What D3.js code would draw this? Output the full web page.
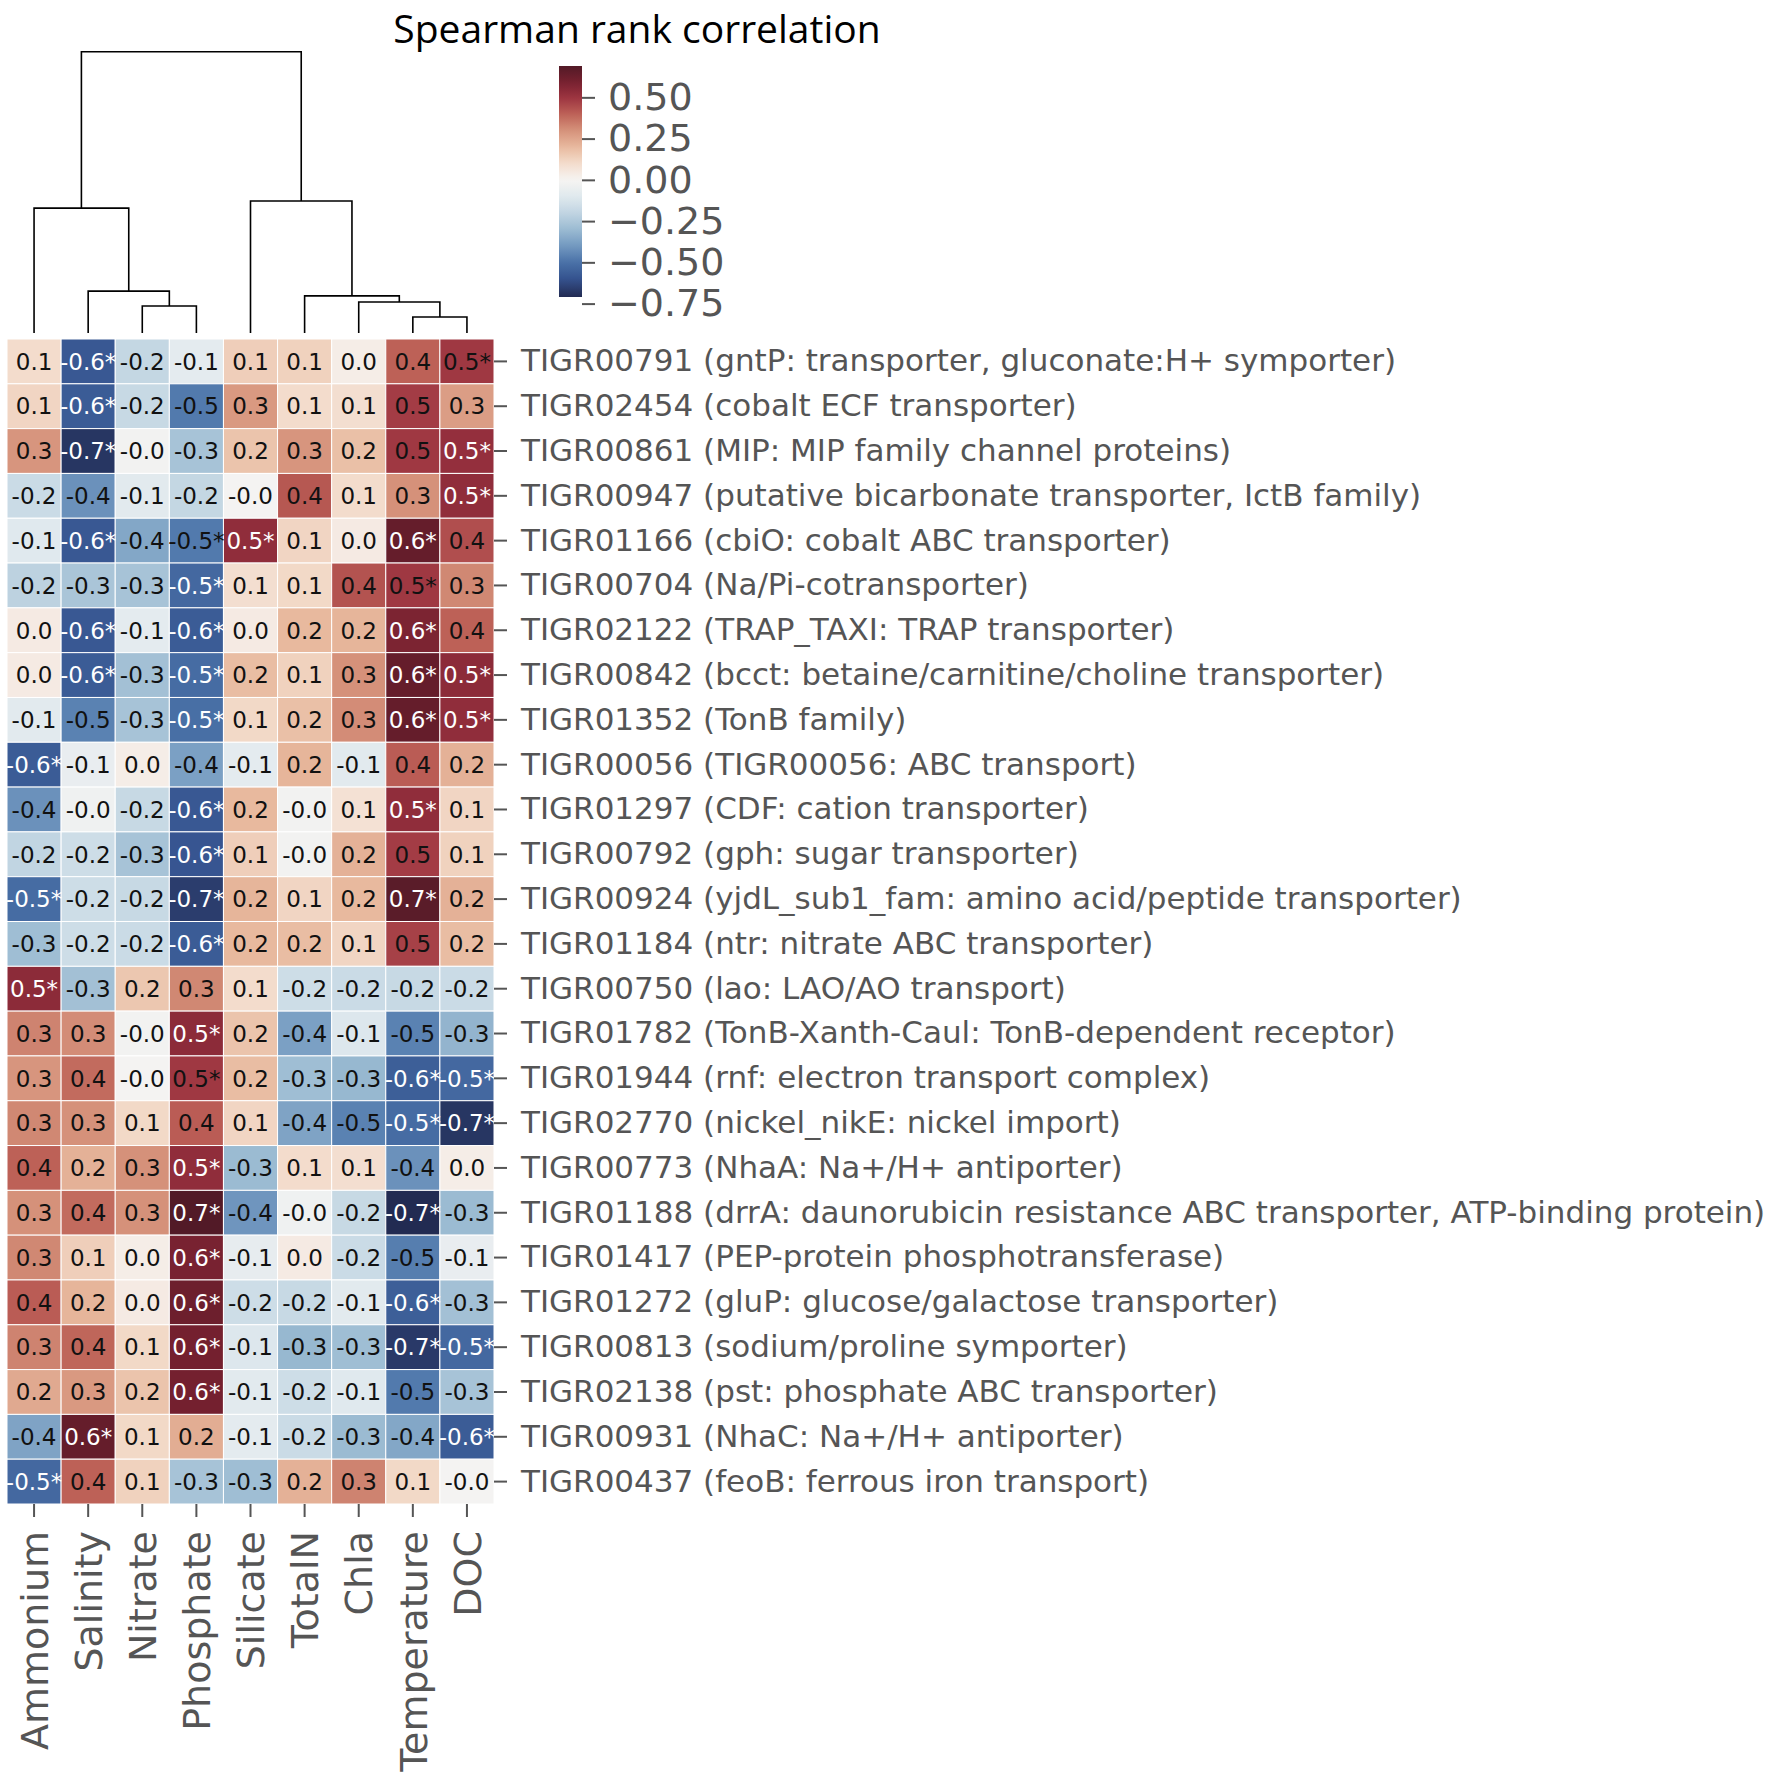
<!DOCTYPE html>
<html>
<head>
<meta charset="utf-8">
<script src="https://cdn.jsdelivr.net/npm/d3@7"></script>
<style>
  body { margin: 0; background: #fff; }
  svg { display: block; }
</style>
</head>
<body>
<svg id="chart" width="1772" height="1791"></svg>
<script>
// Columns (environmental variables) in dendrogram order
const cols = ['Ammonium', 'Salinity', 'Nitrate', 'Phosphate', 'Silicate', 'TotalN', 'Chla', 'Temperature', 'DOC'];

// Rows (TIGRFAM transporters)
const rows = [
  'TIGR00791 (gntP: transporter, gluconate:H+ symporter)',
  'TIGR02454 (cobalt ECF transporter)',
  'TIGR00861 (MIP: MIP family channel proteins)',
  'TIGR00947 (putative bicarbonate transporter, IctB family)',
  'TIGR01166 (cbiO: cobalt ABC transporter)',
  'TIGR00704 (Na/Pi-cotransporter)',
  'TIGR02122 (TRAP_TAXI: TRAP transporter)',
  'TIGR00842 (bcct: betaine/carnitine/choline transporter)',
  'TIGR01352 (TonB family)',
  'TIGR00056 (TIGR00056: ABC transport)',
  'TIGR01297 (CDF: cation transporter)',
  'TIGR00792 (gph: sugar transporter)',
  'TIGR00924 (yjdL_sub1_fam: amino acid/peptide transporter)',
  'TIGR01184 (ntr: nitrate ABC transporter)',
  'TIGR00750 (lao: LAO/AO transport)',
  'TIGR01782 (TonB-Xanth-Caul: TonB-dependent receptor)',
  'TIGR01944 (rnf: electron transport complex)',
  'TIGR02770 (nickel_nikE: nickel import)',
  'TIGR00773 (NhaA: Na+/H+ antiporter)',
  'TIGR01188 (drrA: daunorubicin resistance ABC transporter, ATP-binding protein)',
  'TIGR01417 (PEP-protein phosphotransferase)',
  'TIGR01272 (gluP: glucose/galactose transporter)',
  'TIGR00813 (sodium/proline symporter)',
  'TIGR02138 (pst: phosphate ABC transporter)',
  'TIGR00931 (NhaC: Na+/H+ antiporter)',
  'TIGR00437 (feoB: ferrous iron transport)'
];

// Spearman rho, one row per TIGRFAM, columns as in cols
const rho = [
  [ 0.10, -0.58, -0.19, -0.08,  0.14,  0.13,  0.03,  0.40,  0.49],
  [ 0.12, -0.57, -0.18, -0.48,  0.28,  0.10,  0.09,  0.48,  0.27],
  [ 0.29, -0.68, -0.02, -0.27,  0.17,  0.29,  0.18,  0.49,  0.52],
  [-0.17, -0.42, -0.09, -0.19, -0.01,  0.42,  0.10,  0.30,  0.53],
  [-0.10, -0.58, -0.36, -0.48,  0.53,  0.12,  0.04,  0.64,  0.44],
  [-0.21, -0.26, -0.27, -0.53,  0.09,  0.11,  0.43,  0.49,  0.32],
  [ 0.04, -0.58, -0.08, -0.57,  0.04,  0.20,  0.21,  0.58,  0.40],
  [ 0.04, -0.57, -0.28, -0.52,  0.19,  0.13,  0.30,  0.64,  0.54],
  [-0.09, -0.46, -0.27, -0.51,  0.11,  0.18,  0.31,  0.64,  0.53],
  [-0.57, -0.06,  0.03, -0.38, -0.08,  0.21, -0.09,  0.41,  0.22],
  [-0.42, -0.03, -0.18, -0.58,  0.20, -0.02,  0.08,  0.53,  0.12],
  [-0.20, -0.16, -0.27, -0.59,  0.14, -0.02,  0.22,  0.48,  0.13],
  [-0.52, -0.16, -0.18, -0.66,  0.21,  0.12,  0.20,  0.67,  0.22],
  [-0.29, -0.16, -0.17, -0.57,  0.20,  0.19,  0.12,  0.47,  0.19],
  [ 0.54, -0.28,  0.16,  0.32,  0.10, -0.16, -0.17, -0.18, -0.17],
  [ 0.33,  0.31, -0.02,  0.54,  0.17, -0.38, -0.11, -0.46, -0.32],
  [ 0.29,  0.38, -0.01,  0.49,  0.19, -0.29, -0.31, -0.56, -0.53],
  [ 0.32,  0.30,  0.11,  0.41,  0.12, -0.37, -0.46, -0.52, -0.68],
  [ 0.40,  0.22,  0.30,  0.53, -0.30,  0.10,  0.09, -0.42,  0.03],
  [ 0.30,  0.38,  0.30,  0.69, -0.41, -0.03, -0.18, -0.71, -0.30],
  [ 0.32,  0.14,  0.03,  0.59, -0.07,  0.04, -0.17, -0.47, -0.06],
  [ 0.41,  0.21,  0.04,  0.62, -0.16, -0.18, -0.09, -0.56, -0.28],
  [ 0.33,  0.39,  0.11,  0.60, -0.11, -0.31, -0.29, -0.67, -0.53],
  [ 0.24,  0.28,  0.17,  0.60, -0.09, -0.16, -0.10, -0.48, -0.27],
  [-0.37,  0.64,  0.11,  0.23, -0.08, -0.17, -0.30, -0.36, -0.57],
  [-0.53,  0.40,  0.13, -0.27, -0.29,  0.22,  0.33,  0.11, -0.01]
];

// Significance flags (1 = marked with *)
const sig = [
  [0,1,0,0,0,0,0,0,1],
  [0,1,0,0,0,0,0,0,0],
  [0,1,0,0,0,0,0,0,1],
  [0,0,0,0,0,0,0,0,1],
  [0,1,0,1,1,0,0,1,0],
  [0,0,0,1,0,0,0,1,0],
  [0,1,0,1,0,0,0,1,0],
  [0,1,0,1,0,0,0,1,1],
  [0,0,0,1,0,0,0,1,1],
  [1,0,0,0,0,0,0,0,0],
  [0,0,0,1,0,0,0,1,0],
  [0,0,0,1,0,0,0,0,0],
  [1,0,0,1,0,0,0,1,0],
  [0,0,0,1,0,0,0,0,0],
  [1,0,0,0,0,0,0,0,0],
  [0,0,0,1,0,0,0,0,0],
  [0,0,0,1,0,0,0,1,1],
  [0,0,0,0,0,0,0,1,1],
  [0,0,0,1,0,0,0,0,0],
  [0,0,0,1,0,0,0,1,0],
  [0,0,0,1,0,0,0,0,0],
  [0,0,0,1,0,0,0,1,0],
  [0,0,0,1,0,0,0,1,1],
  [0,0,0,1,0,0,0,0,0],
  [0,1,0,0,0,0,0,0,1],
  [1,0,0,0,0,0,0,0,0]
];

// Column linkage (scipy style): [child a, child b, distance]; leaves 0..8, new nodes from 9
const linkage = [
  [7, 8, 0.057],
  [2, 3, 0.096],
  [6, 9, 0.110],
  [5, 11, 0.132],
  [1, 10, 0.149],
  [0, 13, 0.444],
  [4, 12, 0.469],
  [14, 15, 1.000]
];

const cbarTicks = [0.5, 0.25, 0, -0.25, -0.5, -0.75];

// Muted RdBu_r colormap, positions in [-1, 1]
const cmapPos = [-1, -0.845, -0.704, -0.563, -0.423, -0.282, -0.141, 0, 0.141, 0.282, 0.423, 0.563, 0.704, 0.845, 1];
const cmapCol = ['#222b52', '#35528e', '#4a72a8', '#7399c0', '#9bbbd2', '#c1d5e2', '#e0e9ee', '#f6f4f2',
                 '#f3dccc', '#e8b99e', '#d5917a', '#bd6157', '#9c3340', '#74202f', '#4b1925'];

const svg = d3.select('#chart');
const grey = '#555';

const flat = rho.flat();
const [vmin, vmax] = d3.extent(flat);
const vr = Math.max(Math.abs(vmin), Math.abs(vmax));   // centred at 0
const cmap = d3.scaleLinear().domain(cmapPos).range(cmapCol).clamp(true);
const color = v => cmap(v / vr);

// Heatmap scales
const x = d3.scaleBand().domain(cols).range([7, 494]);
const y = d3.scaleBand().domain(rows).range([339, 1504]);

const cells = [];
rows.forEach((r, i) => cols.forEach((c, j) => cells.push({ r, c, v: rho[i][j], s: sig[i][j] })));

const heat = svg.append('g');
heat.selectAll('rect')
  .data(cells)
  .enter()
  .append('rect')
  .attr('x', d => x(d.c))
  .attr('y', d => y(d.r))
  .attr('width', x.bandwidth())
  .attr('height', y.bandwidth())
  .attr('fill', d => color(d.v))
  .attr('stroke', '#fff')
  .attr('stroke-width', 1);

heat.selectAll('text')
  .data(cells)
  .enter()
  .append('text')
  .attr('x', d => x(d.c) + x.bandwidth() / 2)
  .attr('y', d => y(d.r) + y.bandwidth() / 2)
  .attr('dy', '0.36em')
  .attr('text-anchor', 'middle')
  .style('font-family', 'DejaVu Sans')
  .style('font-size', '23px')
  .attr('fill', d => Math.abs(d.v) >= 0.5 ? '#fff' : '#111')
  .text(d => d.v.toFixed(1) + (d.s ? '*' : ''));

// Row axis (right)
const rowAxis = svg.append('g')
  .attr('transform', 'translate(494,0)')
  .call(d3.axisRight(y).tickSize(13).tickPadding(14));
rowAxis.select('.domain').remove();
rowAxis.selectAll('line').attr('stroke', grey).attr('stroke-width', 2);
rowAxis.selectAll('text')
  .attr('fill', grey)
  .style('font-family', 'DejaVu Sans')
  .style('font-size', '31px');

// Column axis (bottom), rotated labels
const colAxis = svg.append('g')
  .attr('transform', 'translate(0,1504)')
  .call(d3.axisBottom(x).tickSize(13));
colAxis.select('.domain').remove();
colAxis.selectAll('line').attr('stroke', grey).attr('stroke-width', 2);
colAxis.selectAll('text')
  .attr('fill', grey)
  .style('font-family', 'DejaVu Sans')
  .style('font-size', '38px')
  .attr('transform', 'rotate(-90)')
  .attr('text-anchor', 'end')
  .attr('x', -27)
  .attr('y', 0)
  .attr('dy', '0.36em');

// Dendrogram over columns
const hScale = d3.scaleLinear().domain([0, 1]).range([333, 51.7]);
const nodes = cols.map((c, i) => ({ x: x(c) + x.bandwidth() / 2, h: 0 }));
const links = [];
linkage.forEach(([a, b, h]) => {
  const A = nodes[a], B = nodes[b];
  links.push([[A.x, hScale(A.h)], [A.x, hScale(h)], [B.x, hScale(h)], [B.x, hScale(B.h)]]);
  nodes.push({ x: (A.x + B.x) / 2, h });
});
svg.append('g')
  .selectAll('path')
  .data(links)
  .enter()
  .append('path')
  .attr('d', d3.line())
  .attr('fill', 'none')
  .attr('stroke', '#000')
  .attr('stroke-width', 1.6);

// Colorbar
const cScale = d3.scaleLinear().domain([vmin, vmax]).range([297, 66]);
const grad = svg.append('defs').append('linearGradient')
  .attr('id', 'cbar').attr('x1', 0).attr('y1', 1).attr('x2', 0).attr('y2', 0);
d3.range(0, 1.0001, 0.02).forEach(t => {
  const v = vmin + t * (vmax - vmin);
  grad.append('stop').attr('offset', t).attr('stop-color', color(v));
});
svg.append('rect')
  .attr('x', 559).attr('y', 66)
  .attr('width', 23).attr('height', 231)
  .attr('fill', 'url(#cbar)');

const cAxis = svg.append('g')
  .attr('transform', 'translate(582,0)')
  .call(d3.axisRight(cScale).tickValues(cbarTicks).tickSize(13).tickPadding(13).tickFormat(d3.format('.2f')));
cAxis.select('.domain').remove();
cAxis.selectAll('line').attr('stroke', grey).attr('stroke-width', 2);
cAxis.selectAll('text')
  .attr('fill', grey)
  .style('font-family', 'DejaVu Sans')
  .style('font-size', '38px');

// Title
svg.append('text')
  .attr('x', 637)
  .attr('y', 43)
  .attr('text-anchor', 'middle')
  .style('font-family', 'Open Sans')
  .style('font-size', '39px')
  .style('font-weight', 500)
  .attr('fill', '#000')
  .text('Spearman rank correlation');
</script>
</body>
</html>
